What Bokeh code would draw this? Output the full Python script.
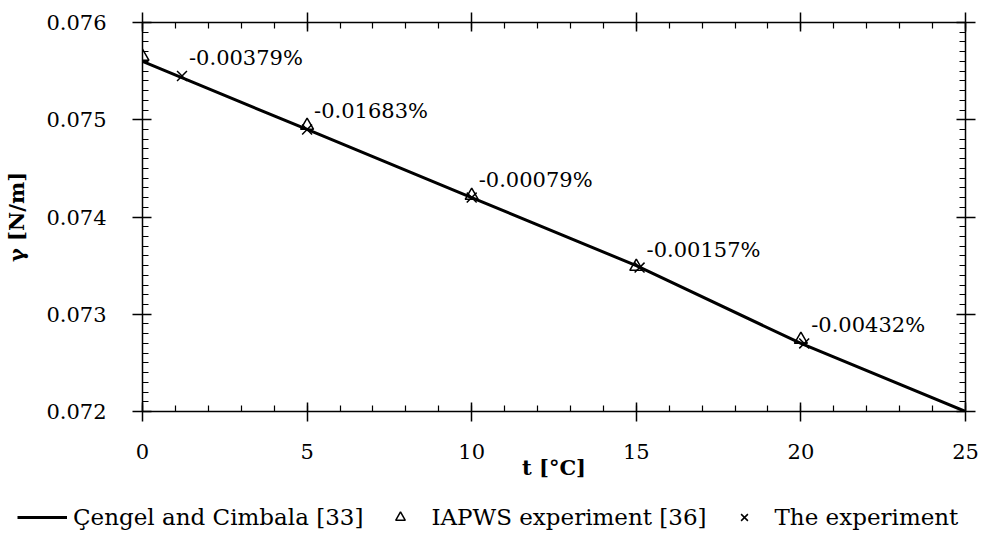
import numpy as np
from bokeh.plotting import figure
from bokeh.layouts import column
from bokeh.models import LinearAxis, FixedTicker, Legend, LegendItem, Range1d, BasicTickFormatter
from bokeh.embed import file_html
from bokeh.resources import INLINE
from bokeh.core.properties import value

# ---- data ----
cengel_t = [0, 5, 10, 15, 20, 25]
cengel_gamma = [0.0756, 0.0749, 0.0742, 0.0735, 0.0727, 0.0720]

iapws_t = [0, 5, 10, 15, 20]
iapws_gamma = [0.07565, 0.07494, 0.07422, 0.07349, 0.07274]

exp_t = [1.2, 5.0, 10.0, 15.1, 20.1]
exp_gamma = [0.07545, 0.0749, 0.0742, 0.07348, 0.0727]
exp_labels = ["-0.00379%", "-0.01683%", "-0.00079%", "-0.00157%", "-0.00432%"]

series_names = ["Çengel and Cimbala [33]", "IAPWS experiment [36]", "The experiment"]

x_ticks = [0, 5, 10, 15, 20, 25]
y_ticks = [0.072, 0.073, 0.074, 0.075, 0.076]
x_minor = list(np.arange(0, 25.001, 1.0))
y_minor = list(np.round(np.arange(0.072, 0.07601, 0.0001), 5))

FONT = "DejaVu Serif"
FS = "21px"

p = figure(frame_width=823, frame_height=389,
           x_range=Range1d(0, 25), y_range=Range1d(0.072, 0.076),
           output_backend="svg", toolbar_location=None,
           min_border_left=142, min_border_top=22, min_border_right=17,
           min_border_bottom=85,
           x_axis_label="t [°C]", y_axis_label="γ [N/m]")
p.frame_align = False
p.outline_line_color = None
p.xgrid.grid_line_color = None
p.ygrid.grid_line_color = None
p.background_fill_color = "white"
p.border_fill_color = "white"


def style(ax, ticks, minor, labels=True):
    ax.ticker = FixedTicker(ticks=ticks, minor_ticks=minor)
    ax.axis_line_color = "black"
    ax.axis_line_width = 1.5
    ax.major_tick_line_color = "black"
    ax.minor_tick_line_color = "black"
    ax.major_tick_line_width = 1.5
    ax.minor_tick_line_width = 1.2
    ax.major_tick_in = 9
    ax.major_tick_out = 10
    ax.minor_tick_in = 6
    ax.minor_tick_out = 0
    if labels:
        ax.major_label_text_font = FONT
        ax.major_label_text_font_size = FS
        ax.major_label_text_color = "black"
        ax.axis_label_text_font = FONT
        ax.axis_label_text_font_size = FS
        ax.axis_label_text_font_style = "bold"
        ax.axis_label_text_color = "black"
    else:
        ax.major_label_text_font_size = "1px"
        ax.major_label_text_color = None
        ax.major_label_standoff = 0


style(p.xaxis[0], x_ticks, x_minor)
style(p.yaxis[0], y_ticks, y_minor)
p.xaxis[0].major_label_standoff = 22
p.xaxis[0].axis_label_standoff = -7
p.yaxis[0].major_label_standoff = 26
p.yaxis[0].axis_label_standoff = 14
p.yaxis[0].formatter = BasicTickFormatter(precision=3, use_scientific=False)

top = LinearAxis()
style(top, x_ticks, x_minor, labels=False)
p.add_layout(top, "above")
right = LinearAxis()
style(right, y_ticks, y_minor, labels=False)
p.add_layout(right, "right")

line_style = dict(line_width=3, line_color="black")
tri_style = dict(marker="triangle", size=13, fill_color=None, line_color="black", line_width=1.5)
x_style = dict(marker="x", size=14, line_color="black", line_width=1.5)

p.line(cengel_t, cengel_gamma, **line_style)
p.scatter(iapws_t, iapws_gamma, **tri_style)
p.scatter(exp_t, exp_gamma, **x_style)

p.text(x=exp_t, y=exp_gamma, text=exp_labels, x_offset=7, y_offset=-18,
       text_font=value(FONT), text_font_size=FS, text_color="black",
       text_baseline="alphabetic", text_align="left")

# ---- legend strip below the chart (its renderers lie outside its own ranges) ----
q = figure(width=982, height=39, x_range=Range1d(-20, -10), y_range=Range1d(0, 1),
           output_backend="svg", toolbar_location=None,
           x_axis_location=None, y_axis_location=None,
           min_border_left=0, min_border_right=0, min_border_top=0, min_border_bottom=0)
q.frame_align = False
q.outline_line_color = None
q.xgrid.grid_line_color = None
q.ygrid.grid_line_color = None
q.border_fill_color = "white"
q.background_fill_color = "white"
l_line = q.line(cengel_t, cengel_gamma, **line_style)
l_tri = q.scatter(iapws_t, iapws_gamma, **tri_style)
l_x = q.scatter(exp_t, exp_gamma, **x_style)

legend = Legend(items=[
    LegendItem(label=series_names[0], renderers=[l_line]),
    LegendItem(label=series_names[1], renderers=[l_tri]),
    LegendItem(label=series_names[2], renderers=[l_x]),
], location=(17, 5), orientation="horizontal")
legend.border_line_color = None
legend.background_fill_alpha = 0
legend.label_text_font = FONT
legend.label_text_font_size = "23px"
legend.label_text_color = "black"
legend.glyph_width = 50
legend.glyph_height = 24
legend.label_standoff = 6
legend.spacing = 12
legend.padding = 0
legend.margin = 0
q.add_layout(legend, "center")

layout = column(p, q, spacing=0)
open("out.html", "w").write(file_html(layout, INLINE))
